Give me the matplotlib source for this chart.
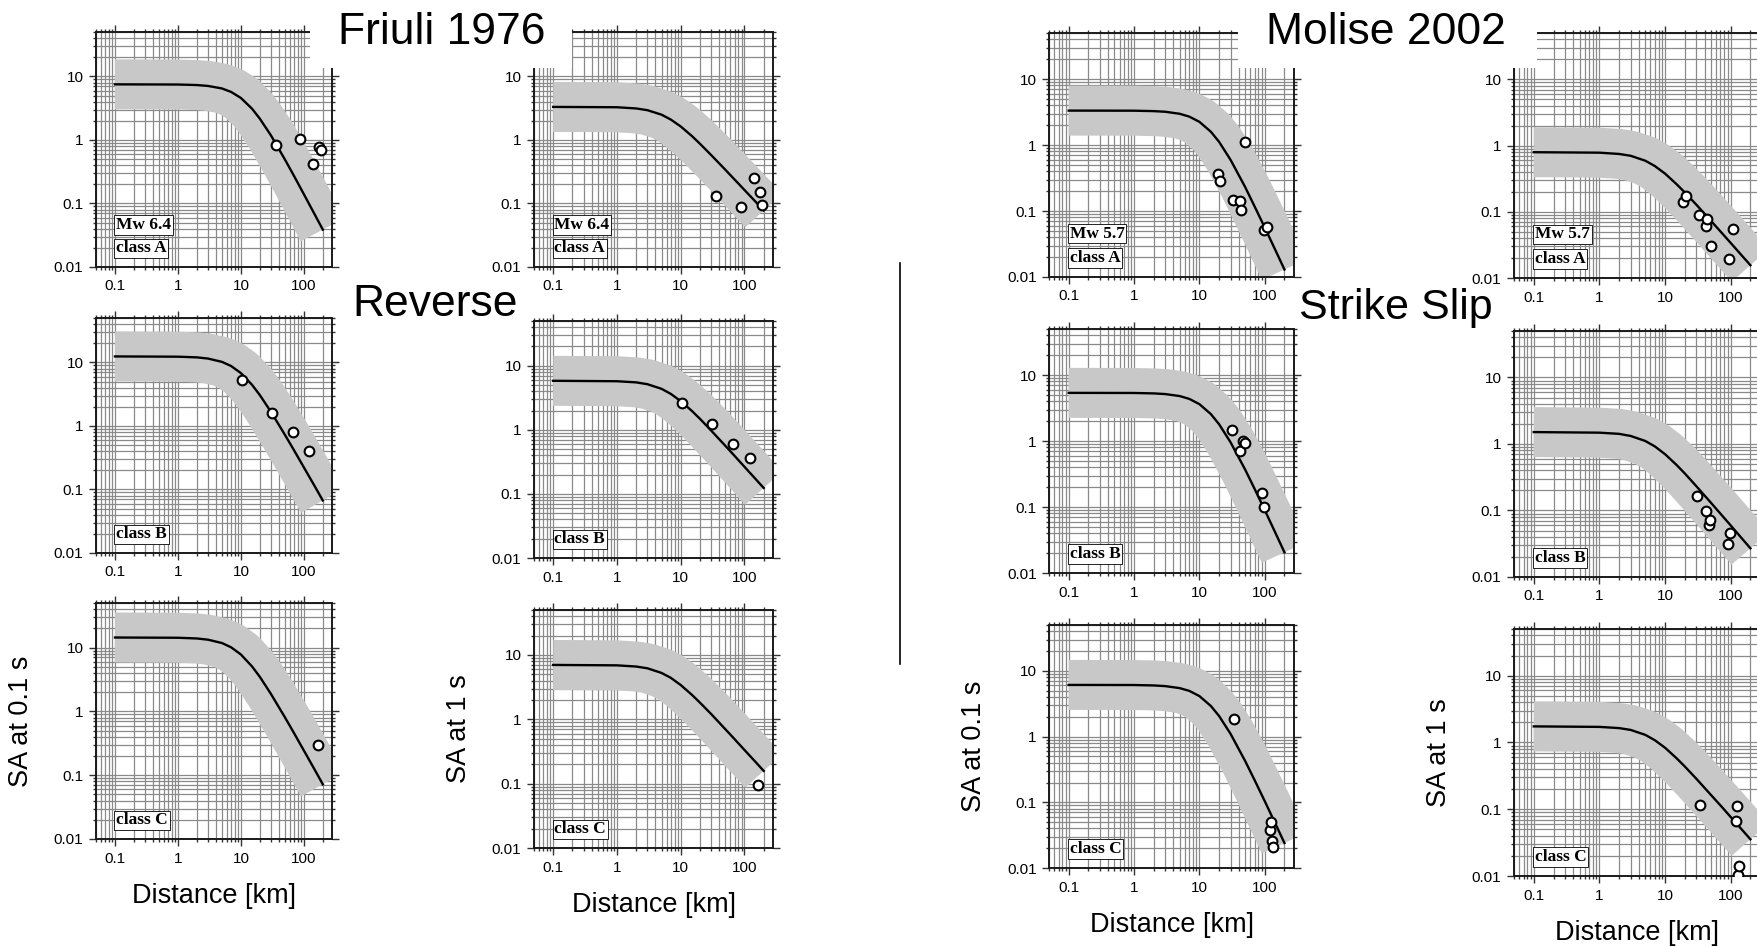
import matplotlib.pyplot as plt
import numpy as np
from matplotlib.lines import Line2D
from matplotlib.patches import Rectangle
from matplotlib.ticker import FixedLocator, FixedFormatter, LogLocator, NullFormatter

plt.rcParams['font.family'] = ['Liberation Sans', 'DejaVu Sans']

W, H = 1758, 947

# distances where the predicted medians were read [km]
dist = [0.1, 1, 2, 3, 5, 7, 10, 15, 20, 30, 50, 70, 100, 150, 200]

# predicted median SA, Friuli 1976 (Mw 6.4)
friuli_a_01 = [7.50, 7.45, 7.31, 7.08, 6.46, 5.70, 4.58, 3.11, 2.16, 1.18, 0.493, 0.270, 0.140, 0.0662, 0.0388]
friuli_b_01 = [12.42, 12.30, 12.0, 11.5, 10.2, 8.77, 6.79, 4.45, 3.06, 1.67, 0.726, 0.412, 0.223, 0.111, 0.0671]
friuli_c_01 = [14.39, 14.26, 13.9, 13.3, 11.8, 10.1, 7.80, 5.08, 3.48, 1.88, 0.809, 0.455, 0.244, 0.120, 0.0721]
friuli_a_1 = [3.31, 3.27, 3.13, 2.94, 2.50, 2.09, 1.63, 1.15, 0.873, 0.579, 0.340, 0.238, 0.163, 0.106, 0.0776]
friuli_b_1 = [5.83, 5.74, 5.51, 5.16, 4.37, 3.64, 2.81, 1.97, 1.49, 0.975, 0.565, 0.392, 0.265, 0.170, 0.124]
friuli_c_1 = [7.00, 6.90, 6.61, 6.21, 5.26, 4.41, 3.41, 2.40, 1.82, 1.21, 0.703, 0.491, 0.334, 0.216, 0.158]

# predicted median SA, Molise 2002 (Mw 5.7)
molise_a_01 = [3.33, 3.32, 3.27, 3.20, 2.98, 2.70, 2.25, 1.59, 1.12, 0.596, 0.232, 0.117, 0.0562, 0.0239, 0.0130]
molise_b_01 = [5.38, 5.36, 5.28, 5.16, 4.81, 4.36, 3.63, 2.56, 1.80, 0.957, 0.371, 0.188, 0.0897, 0.0380, 0.0206]
molise_c_01 = [6.12, 6.10, 6.01, 5.87, 5.47, 4.97, 4.14, 2.92, 2.06, 1.10, 0.427, 0.217, 0.104, 0.0442, 0.0240]
molise_a_1 = [0.793, 0.780, 0.746, 0.700, 0.590, 0.490, 0.377, 0.261, 0.196, 0.128, 0.0731, 0.0504, 0.0339, 0.0215, 0.0156]
molise_b_1 = [1.51, 1.48, 1.42, 1.32, 1.11, 0.920, 0.703, 0.484, 0.361, 0.232, 0.131, 0.0895, 0.0597, 0.0375, 0.0270]
molise_c_1 = [1.74, 1.71, 1.64, 1.54, 1.30, 1.08, 0.834, 0.580, 0.437, 0.286, 0.164, 0.114, 0.0766, 0.0489, 0.0355]

# recorded values at the stations
friuli_a_dist = [36, 87, 139, 175, 187]
friuli_a_obs01 = [0.84, 1.03, 0.42, 0.78, 0.70]
friuli_a_obs1 = [0.133, 0.087, 0.255, 0.15, 0.096]
friuli_b_dist = [10.3, 31, 67, 120]
friuli_b_obs01 = [5.3, 1.6, 0.8, 0.4]
friuli_b_obs1 = [2.6, 1.24, 0.6, 0.36]
friuli_c_dist = [165]
friuli_c_obs01 = [0.30]
friuli_c_obs1 = [0.094]

molise_a_dist = [19, 21, 33, 42, 43, 50, 96, 109]
molise_a_obs01 = [0.37, 0.29, 0.149, 0.144, 0.105, 1.11, 0.052, 0.058]
molise_a_obs1 = [0.142, 0.173, 0.089, 0.062, 0.079, 0.030, 0.0196, 0.054]
molise_b_dist = [31, 42, 46, 49, 90, 97]
molise_b_obs01 = [1.47, 0.71, 1.0, 0.92, 0.165, 0.10]
molise_b_obs1 = [0.167, 0.097, 0.060, 0.072, 0.031, 0.046]
molise_c_dist = [34, 121, 124, 128, 135]
molise_c_obs01 = [1.84, 0.038, 0.050, 0.026, 0.021]
molise_c_obs1 = [0.115, 0.066, 0.112, 0.0105, 0.014]

x_ticks = [0.1, 1, 10, 100]
x_labels = ['0.1', '1', '10', '100']
y_ticks = [0.01, 0.1, 1, 10]
y_labels = ['0.01', '0.1', '1', '10']

fig = plt.figure(figsize=(W / 100, H / 100), dpi=100)


def setup(ax):
    ax.set_xscale('log')
    ax.set_yscale('log')
    ax.set_xlim(0.05, 280)
    ax.set_ylim(0.01, 50)
    ax.xaxis.set_major_locator(FixedLocator(x_ticks))
    ax.xaxis.set_major_formatter(FixedFormatter(x_labels))
    ax.yaxis.set_major_locator(FixedLocator(y_ticks))
    ax.yaxis.set_major_formatter(FixedFormatter(y_labels))
    for axis in (ax.xaxis, ax.yaxis):
        axis.set_minor_locator(LogLocator(base=10, subs=np.arange(2, 10), numticks=20))
        axis.set_minor_formatter(NullFormatter())
    ax.grid(True, which='both', color='#8a8a8a', lw=0.9)
    ax.set_axisbelow(True)
    ax.tick_params(which='both', direction='out', top=True, right=True,
                   labelsize=11, width=1.0, color='#333333')
    ax.tick_params(which='major', length=5, pad=4)
    ax.tick_params(which='minor', length=2.5)
    for s in ax.spines.values():
        s.set_linewidth(1.4)
        s.set_color('#1a1a1a')


def draw_panel(ax, med, ox, oy, tags):
    setup(ax)
    # +/- sigma band drawn as a very wide pen along the median
    ax.plot(dist, med, color='#c8c8c8', lw=36, solid_capstyle='butt',
            solid_joinstyle='round', zorder=2)
    ax.plot(dist, med, color='black', lw=1.7, zorder=3)
    ax.plot(ox, oy, 'o', ms=7, mfc='white', mec='black', mew=1.5, zorder=4)
    for i, t in enumerate(tags[::-1]):
        ax.text(0.085, 0.045 + 0.1 * i, t, transform=ax.transAxes,
                family=['Liberation Serif'], weight='bold', fontsize=12.5,
                ha='left', va='bottom', zorder=5,
                bbox=dict(boxstyle='square,pad=0.1', fc='white', ec='black', lw=0.6))


cols = [(96, 332), (534, 773), (1049, 1294), (1514, 1760)]
rows = [[(32, 267), (318, 553), (603, 839)],
        [(32, 267), (321, 558), (610, 848)],
        [(33, 277), (329, 573), (625, 868)],
        [(33, 278), (331, 577), (629, 876)]]

curves = [[friuli_a_01, friuli_b_01, friuli_c_01],
          [friuli_a_1, friuli_b_1, friuli_c_1],
          [molise_a_01, molise_b_01, molise_c_01],
          [molise_a_1, molise_b_1, molise_c_1]]
obs_x = [[friuli_a_dist, friuli_b_dist, friuli_c_dist],
         [friuli_a_dist, friuli_b_dist, friuli_c_dist],
         [molise_a_dist, molise_b_dist, molise_c_dist],
         [molise_a_dist, molise_b_dist, molise_c_dist]]
obs_y = [[friuli_a_obs01, friuli_b_obs01, friuli_c_obs01],
         [friuli_a_obs1, friuli_b_obs1, friuli_c_obs1],
         [molise_a_obs01, molise_b_obs01, molise_c_obs01],
         [molise_a_obs1, molise_b_obs1, molise_c_obs1]]
mags = ['Mw 6.4', 'Mw 6.4', 'Mw 5.7', 'Mw 5.7']
ylabels = ['SA at 0.1 s', 'SA at 1 s', 'SA at 0.1 s', 'SA at 1 s']

for c in range(4):
    l, r = cols[c]
    for rr in range(3):
        t, b = rows[c][rr]
        ax = fig.add_axes([l / W, 1 - b / H, (r - l) / W, (b - t) / H])
        tags = [mags[c], 'class A'] if rr == 0 else ['class ' + 'ABC'[rr]]
        draw_panel(ax, curves[c][rr], obs_x[c][rr], obs_y[c][rr], tags)
        if rr == 2:
            ax.text(0.5, -57 / (b - t), 'Distance [km]', transform=ax.transAxes,
                    ha='center', va='center', fontsize=19.5)
            ax.text(-75 / (r - l), 0.5, ylabels[c], transform=ax.transAxes,
                    rotation=90, ha='center', va='center', fontsize=19.5)

# slide overlays
fig.add_artist(Rectangle((310 / W, 1 - 68 / H), 262 / W, 68 / H, transform=fig.transFigure,
                         fc='white', ec='none', zorder=10))
fig.add_artist(Rectangle((1238 / W, 1 - 68 / H), 299 / W, 68 / H, transform=fig.transFigure,
                         fc='white', ec='none', zorder=10))
fig.text(442 / W, 1 - 33 / H, 'Friuli 1976', fontsize=32, ha='center', va='center', zorder=11)
fig.text(1386 / W, 1 - 33 / H, 'Molise 2002', fontsize=32, ha='center', va='center', zorder=11)
fig.text(435 / W, 1 - 304 / H, 'Reverse', fontsize=32, ha='center', va='center', zorder=11)
fig.text(1396 / W, 1 - 308 / H, 'Strike Slip', fontsize=31, ha='center', va='center', zorder=11)
fig.add_artist(Line2D([900 / W, 900 / W], [1 - 263 / H, 1 - 664 / H], color='black', lw=1.2))

fig.savefig('out.png', dpi=100, facecolor='white')
